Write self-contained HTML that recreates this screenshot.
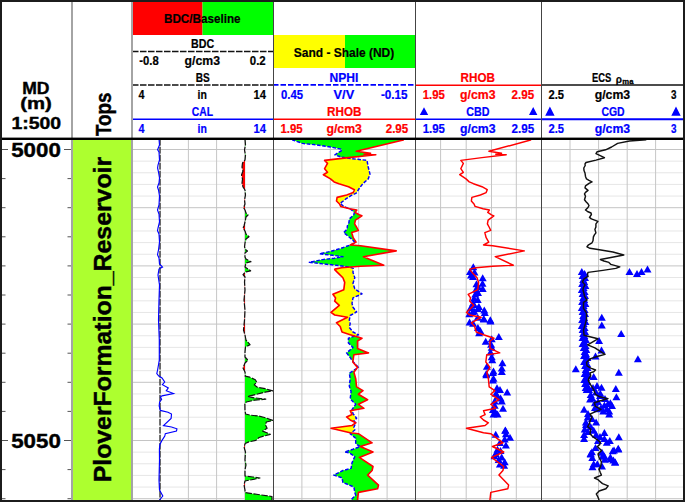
<!DOCTYPE html>
<html><head><meta charset="utf-8"><title>Well log</title>
<style>
html,body{margin:0;padding:0;background:#fff;width:685px;height:502px;overflow:hidden;}
svg{display:block;font-family:"Liberation Sans",sans-serif;}
</style></head><body>
<svg width="685" height="502" viewBox="0 0 685 502">
<defs>
<clipPath id="lb"><polygon points="273,139 292.7,139 292.7,140 302.5,143.4 315.6,144.8 330.5,147 341,149.1 341.9,150.4 334.9,154.8 341,157 350.9,158.6 367,160.4 368.2,167 370,174.1 368.2,178.9 362.8,183.7 359.2,188.5 356.2,193.2 350.9,195.6 345.5,199.2 340.1,203.4 343.7,206.4 350.9,209.4 354.4,212.4 353.8,214.8 349.5,218.8 348.8,223.1 347.3,226.1 347.3,229 343.7,232.6 347.3,235.5 351.7,239.2 355.4,242.8 350.3,245 340,248.7 329.8,251.6 319.6,253.8 332.7,255.3 343,256.7 334.2,258.2 322.5,259.6 309.4,262.3 324,264 338.6,265.5 348.8,266.9 353.2,268.4 353,272.4 354.8,277.8 353,283.3 354.8,288.8 362,293.9 353,297.9 352,303.4 353,307.3 356.6,311.9 350.2,315.5 349.3,320 350.2,323.7 349.3,327.4 353,332 358.4,334.7 348.4,338.3 348.4,342.9 353,347.4 346.6,352.9 350.2,357.5 352,360.5 358.4,367.4 349.3,373.2 350.2,378.7 349.3,386 351.1,391.5 350.2,398.8 355.7,404.3 352,409.7 353,413.6 356.6,418.2 353.9,421 355.7,422.8 353.9,427.3 354.8,430 350.2,433.7 355.7,438.3 355.7,443.8 360.3,446.5 353,449.2 344.7,452 349.3,452.9 354.8,456.5 352,462.9 351.1,468.4 342.9,470.5 333.8,475.1 342,477.8 342.9,482.4 353.9,487 354.8,492.4 355.7,495.2 352,498.8 352,500 273,500"/></clipPath>
<clipPath id="rb"><polygon points="415,139 292.7,139 292.7,140 302.5,143.4 315.6,144.8 330.5,147 341,149.1 341.9,150.4 334.9,154.8 341,157 350.9,158.6 367,160.4 368.2,167 370,174.1 368.2,178.9 362.8,183.7 359.2,188.5 356.2,193.2 350.9,195.6 345.5,199.2 340.1,203.4 343.7,206.4 350.9,209.4 354.4,212.4 353.8,214.8 349.5,218.8 348.8,223.1 347.3,226.1 347.3,229 343.7,232.6 347.3,235.5 351.7,239.2 355.4,242.8 350.3,245 340,248.7 329.8,251.6 319.6,253.8 332.7,255.3 343,256.7 334.2,258.2 322.5,259.6 309.4,262.3 324,264 338.6,265.5 348.8,266.9 353.2,268.4 353,272.4 354.8,277.8 353,283.3 354.8,288.8 362,293.9 353,297.9 352,303.4 353,307.3 356.6,311.9 350.2,315.5 349.3,320 350.2,323.7 349.3,327.4 353,332 358.4,334.7 348.4,338.3 348.4,342.9 353,347.4 346.6,352.9 350.2,357.5 352,360.5 358.4,367.4 349.3,373.2 350.2,378.7 349.3,386 351.1,391.5 350.2,398.8 355.7,404.3 352,409.7 353,413.6 356.6,418.2 353.9,421 355.7,422.8 353.9,427.3 354.8,430 350.2,433.7 355.7,438.3 355.7,443.8 360.3,446.5 353,449.2 344.7,452 349.3,452.9 354.8,456.5 352,462.9 351.1,468.4 342.9,470.5 333.8,475.1 342,477.8 342.9,482.4 353.9,487 354.8,492.4 355.7,495.2 352,498.8 352,500 415,500"/></clipPath>
<clipPath id="t1r"><rect x="245" y="139" width="28" height="361"/></clipPath>
<clipPath id="t1l"><rect x="132" y="139" width="113" height="361"/></clipPath>
<clipPath id="data"><rect x="0" y="139" width="685" height="361"/></clipPath>
</defs>
<rect x="132" y="2" width="70.5" height="33" fill="#ff0000"/>
<rect x="202.5" y="2" width="70.5" height="33" fill="#00ff00"/>
<rect x="274" y="35" width="71" height="33" fill="#ffff00"/>
<rect x="345" y="35" width="70" height="33" fill="#00ff00"/>
<rect x="73" y="139" width="58" height="361" fill="#adff2f"/>
<path d="M132 161.14H683 M132 172.78H683 M132 184.42H683 M132 196.06H683 M132 219.34H683 M132 230.98H683 M132 242.62H683 M132 254.26H683 M132 277.54H683 M132 289.18H683 M132 300.82H683 M132 312.46H683 M132 335.74H683 M132 347.38H683 M132 359.02H683 M132 370.66H683 M132 393.94H683 M132 405.58H683 M132 417.22H683 M132 428.86H683 M132 452.14H683 M132 463.78H683 M132 475.42H683 M132 487.06H683" stroke="#e6e6e6" stroke-width="1" fill="none"/>
<path d="M160.2 139V500 M188.4 139V500 M216.6 139V500 M244.8 139V500 M301.9 139V500 M330.3 139V500 M358.7 139V500 M387.1 139V500 M440.6 139V500 M466.2 139V500 M491.5 139V500 M516.3 139V500 M570 139V500 M598.6 139V500 M627.2 139V500 M655.6 139V500" stroke="#c6c6c6" stroke-width="1" fill="none"/>
<path d="M132 149.5H683 M132 207.7H683 M132 265.9H683 M132 324.1H683 M132 382.3H683 M132 440.5H683 M132 498.7H683" stroke="#c4c4c4" stroke-width="1" fill="none"/>
<path d="M2 149.5H8M64 149.5H71 M2 178.6H5.5M67.5 178.6H71 M2 207.7H5.5M67.5 207.7H71 M2 236.8H5.5M67.5 236.8H71 M2 265.9H5.5M67.5 265.9H71 M2 295H5.5M67.5 295H71 M2 324.1H5.5M67.5 324.1H71 M2 353.2H5.5M67.5 353.2H71 M2 382.3H5.5M67.5 382.3H71 M2 411.4H5.5M67.5 411.4H71 M2 440.5H8M64 440.5H71 M2 469.6H5.5M67.5 469.6H71 M2 498.7H5.5M67.5 498.7H71" stroke="#555" stroke-width="1" fill="none"/>
<polygon points="245,139 245.5,145 244.5,150 245.5,155 245,160 242.5,163 242,167 243,171 241.5,175 242.5,179 242,183 243,187 245,190 245.5,195 244.5,200 245,204 243.5,207.7 245,210 246,213 248,215 246,217 245,222 244,226 243,228 245,231 246,234 249,236.7 246,239 245,243 244.5,247 246,250 247.5,251 245,253 245,257 246,259 251,261.7 246,263 245,267 250.6,270.8 245.5,272 243,274.6 245,277 244.5,282 245,290 244,300 245,310 244.5,320 243.5,330 245,335 246,340 250,344.7 245.5,347 245,352 245,357 248,360.3 245,363 243,368 245,372 245.5,375 245.2,376.2 249.8,377.2 255.3,379.7 256.7,382.1 254.3,384.9 257.4,387.3 265.1,388.7 272.8,390.8 265.1,392.2 247.7,396.4 254,397.8 265.8,399.2 254.6,400.2 246.3,402 244.9,404.1 245,410 245.6,414 250.4,415.2 258.3,416 266.3,418 272.7,420.4 266.3,422 265.5,425.1 267.1,428.3 262.7,431.1 270.3,434.3 259.1,437.5 255.9,440.3 248.8,441.9 245.2,443.5 244,447 245.5,452 245,460 246,465 245,470 245,476 253,477 260,478 250,480 245,481 244,485 245,490 245,492.5 258,494.5 272,496.5 272,500 245,500 245,500 245,139" fill="#00ff00" clip-path="url(#t1r)"/>
<polygon points="245,139 245.5,145 244.5,150 245.5,155 245,160 242.5,163 242,167 243,171 241.5,175 242.5,179 242,183 243,187 245,190 245.5,195 244.5,200 245,204 243.5,207.7 245,210 246,213 248,215 246,217 245,222 244,226 243,228 245,231 246,234 249,236.7 246,239 245,243 244.5,247 246,250 247.5,251 245,253 245,257 246,259 251,261.7 246,263 245,267 250.6,270.8 245.5,272 243,274.6 245,277 244.5,282 245,290 244,300 245,310 244.5,320 243.5,330 245,335 246,340 250,344.7 245.5,347 245,352 245,357 248,360.3 245,363 243,368 245,372 245.5,375 245.2,376.2 249.8,377.2 255.3,379.7 256.7,382.1 254.3,384.9 257.4,387.3 265.1,388.7 272.8,390.8 265.1,392.2 247.7,396.4 254,397.8 265.8,399.2 254.6,400.2 246.3,402 244.9,404.1 245,410 245.6,414 250.4,415.2 258.3,416 266.3,418 272.7,420.4 266.3,422 265.5,425.1 267.1,428.3 262.7,431.1 270.3,434.3 259.1,437.5 255.9,440.3 248.8,441.9 245.2,443.5 244,447 245.5,452 245,460 246,465 245,470 245,476 253,477 260,478 250,480 245,481 244,485 245,490 245,492.5 258,494.5 272,496.5 272,500 245,500 245,500 245,139" fill="#ff0000" clip-path="url(#t1l)"/>
<g clip-path="url(#data)">
<polygon points="415,139 403.3,139 403.3,140 356.3,151.3 370.6,153.2 364,154.2 375.8,154.8 348.4,157.6 324.6,160.4 327.5,163.4 324.6,168.7 327.5,172.3 323.4,174.7 330.5,178.9 334.1,181.9 338.9,183.7 348.5,186.7 354.4,189.7 353.2,192.6 346.7,195 337.1,197.4 336.5,201 339.5,204 340.7,206.4 349.7,208.8 356.8,210 355,212.4 359.2,214.8 361.9,215.8 355.4,220.2 354.6,223.9 356.8,227.5 358.3,230.4 351.7,232.6 353.2,237.7 356.1,242.1 350.3,245 360.5,245.8 396.2,250.9 363.4,256.7 383.8,265.2 360.5,266.2 341.5,267.7 334.9,269.1 334.7,269.6 337.4,272.4 342.9,277.8 344.7,282.4 343.8,289.7 332.9,294.3 335.6,297.9 334.7,301.2 339.3,305.3 331,312.4 334.7,315 347.5,317.3 336.5,322.8 340.2,326.5 342,332 350.2,334.7 362,338.3 357.5,341 357.5,348.4 368.5,352.9 353.9,354.7 352.8,362 357.5,367.4 353.9,372.3 355.7,378.7 356.6,386.9 363,390.6 358.4,394.2 367.6,399.7 358.4,404.3 363.9,408.3 350.2,410.7 352,414.6 346.6,416.9 350.2,420 355.7,422.8 352,425.5 331,428.2 338.4,430 350.2,432.8 358.4,433.7 372.1,442.8 360.3,446.5 373,452 359.3,457.4 373,466.5 372.1,470.5 367.6,475.1 378.5,485.1 377.6,488.8 358.4,492.4 357.5,499.7 357.5,500 415,500" fill="#ffff00" clip-path="url(#lb)"/>
<polygon points="273,139 403.3,139 403.3,140 356.3,151.3 370.6,153.2 364,154.2 375.8,154.8 348.4,157.6 324.6,160.4 327.5,163.4 324.6,168.7 327.5,172.3 323.4,174.7 330.5,178.9 334.1,181.9 338.9,183.7 348.5,186.7 354.4,189.7 353.2,192.6 346.7,195 337.1,197.4 336.5,201 339.5,204 340.7,206.4 349.7,208.8 356.8,210 355,212.4 359.2,214.8 361.9,215.8 355.4,220.2 354.6,223.9 356.8,227.5 358.3,230.4 351.7,232.6 353.2,237.7 356.1,242.1 350.3,245 360.5,245.8 396.2,250.9 363.4,256.7 383.8,265.2 360.5,266.2 341.5,267.7 334.9,269.1 334.7,269.6 337.4,272.4 342.9,277.8 344.7,282.4 343.8,289.7 332.9,294.3 335.6,297.9 334.7,301.2 339.3,305.3 331,312.4 334.7,315 347.5,317.3 336.5,322.8 340.2,326.5 342,332 350.2,334.7 362,338.3 357.5,341 357.5,348.4 368.5,352.9 353.9,354.7 352.8,362 357.5,367.4 353.9,372.3 355.7,378.7 356.6,386.9 363,390.6 358.4,394.2 367.6,399.7 358.4,404.3 363.9,408.3 350.2,410.7 352,414.6 346.6,416.9 350.2,420 355.7,422.8 352,425.5 331,428.2 338.4,430 350.2,432.8 358.4,433.7 372.1,442.8 360.3,446.5 373,452 359.3,457.4 373,466.5 372.1,470.5 367.6,475.1 378.5,485.1 377.6,488.8 358.4,492.4 357.5,499.7 357.5,500 273,500" fill="#00ff00" clip-path="url(#rb)"/>
</g>
<g clip-path="url(#data)" fill="none" stroke-linejoin="round">
<line x1="160" y1="139" x2="160" y2="500" stroke="#222" stroke-width="1.2" stroke-dasharray="6.5,1.5"/>
<polyline points="159,139 159.5,145 157.6,149.8 159,152 159.5,160 158,165 157.6,168 158.5,172 159.5,178 159,183 157.5,187 158.5,190 159.5,196 159,205 157.5,210 159,214 159.5,222 158,228 157.5,230.6 159,234 159.5,242 158.5,250 157.5,254.7 159,258 159.5,264 162.5,267 159,269 158,275 159.5,285 159,300 158.5,320 159.3,340 159.3,360 157.6,370 156.8,373.6 158.8,376 162,378 164.7,382 162.4,384.7 168.3,387.9 166.3,390.7 173.5,393.5 162,395.9 160.4,397.1 161.6,399.5 159.6,401.9 159.2,405.9 160.3,410.4 168,412.2 171.5,414 171.1,418.5 163.5,425.6 171.5,427 176.9,428.8 176.5,431 165.3,433.7 164.8,436 161.7,440.9 159.9,444.5 159.4,449 159.5,460 159,480 159.5,490 162.8,496 159.5,500" stroke="#0000ff" stroke-width="1.15" stroke-linejoin="miter"/>
<polyline points="245,139 245.5,145 244.5,150 245.5,155 245,160 242.5,163 242,167 243,171 241.5,175 242.5,179 242,183 243,187 245,190 245.5,195 244.5,200 245,204 243.5,207.7 245,210 246,213 248,215 246,217 245,222 244,226 243,228 245,231 246,234 249,236.7 246,239 245,243 244.5,247 246,250 247.5,251 245,253 245,257 246,259 251,261.7 246,263 245,267 250.6,270.8 245.5,272 243,274.6 245,277 244.5,282 245,290 244,300 245,310 244.5,320 243.5,330 245,335 246,340 250,344.7 245.5,347 245,352 245,357 248,360.3 245,363 243,368 245,372 245.5,375 245.2,376.2 249.8,377.2 255.3,379.7 256.7,382.1 254.3,384.9 257.4,387.3 265.1,388.7 272.8,390.8 265.1,392.2 247.7,396.4 254,397.8 265.8,399.2 254.6,400.2 246.3,402 244.9,404.1 245,410 245.6,414 250.4,415.2 258.3,416 266.3,418 272.7,420.4 266.3,422 265.5,425.1 267.1,428.3 262.7,431.1 270.3,434.3 259.1,437.5 255.9,440.3 248.8,441.9 245.2,443.5 244,447 245.5,452 245,460 246,465 245,470 245,476 253,477 260,478 250,480 245,481 244,485 245,490 245,492.5 258,494.5 272,496.5 272,500" stroke="#111" stroke-width="1.2" stroke-dasharray="6.5,1.5"/>
<polyline points="292.7,139 292.7,140 302.5,143.4 315.6,144.8 330.5,147 341,149.1 341.9,150.4 334.9,154.8 341,157 350.9,158.6 367,160.4 368.2,167 370,174.1 368.2,178.9 362.8,183.7 359.2,188.5 356.2,193.2 350.9,195.6 345.5,199.2 340.1,203.4 343.7,206.4 350.9,209.4 354.4,212.4 353.8,214.8 349.5,218.8 348.8,223.1 347.3,226.1 347.3,229 343.7,232.6 347.3,235.5 351.7,239.2 355.4,242.8 350.3,245 340,248.7 329.8,251.6 319.6,253.8 332.7,255.3 343,256.7 334.2,258.2 322.5,259.6 309.4,262.3 324,264 338.6,265.5 348.8,266.9 353.2,268.4 353,272.4 354.8,277.8 353,283.3 354.8,288.8 362,293.9 353,297.9 352,303.4 353,307.3 356.6,311.9 350.2,315.5 349.3,320 350.2,323.7 349.3,327.4 353,332 358.4,334.7 348.4,338.3 348.4,342.9 353,347.4 346.6,352.9 350.2,357.5 352,360.5 358.4,367.4 349.3,373.2 350.2,378.7 349.3,386 351.1,391.5 350.2,398.8 355.7,404.3 352,409.7 353,413.6 356.6,418.2 353.9,421 355.7,422.8 353.9,427.3 354.8,430 350.2,433.7 355.7,438.3 355.7,443.8 360.3,446.5 353,449.2 344.7,452 349.3,452.9 354.8,456.5 352,462.9 351.1,468.4 342.9,470.5 333.8,475.1 342,477.8 342.9,482.4 353.9,487 354.8,492.4 355.7,495.2 352,498.8 352,500" stroke="#0000ff" stroke-width="1.45" stroke-dasharray="3.6,1.6"/>
<polyline points="403.3,139 403.3,140 356.3,151.3 370.6,153.2 364,154.2 375.8,154.8 348.4,157.6 324.6,160.4 327.5,163.4 324.6,168.7 327.5,172.3 323.4,174.7 330.5,178.9 334.1,181.9 338.9,183.7 348.5,186.7 354.4,189.7 353.2,192.6 346.7,195 337.1,197.4 336.5,201 339.5,204 340.7,206.4 349.7,208.8 356.8,210 355,212.4 359.2,214.8 361.9,215.8 355.4,220.2 354.6,223.9 356.8,227.5 358.3,230.4 351.7,232.6 353.2,237.7 356.1,242.1 350.3,245 360.5,245.8 396.2,250.9 363.4,256.7 383.8,265.2 360.5,266.2 341.5,267.7 334.9,269.1 334.7,269.6 337.4,272.4 342.9,277.8 344.7,282.4 343.8,289.7 332.9,294.3 335.6,297.9 334.7,301.2 339.3,305.3 331,312.4 334.7,315 347.5,317.3 336.5,322.8 340.2,326.5 342,332 350.2,334.7 362,338.3 357.5,341 357.5,348.4 368.5,352.9 353.9,354.7 352.8,362 357.5,367.4 353.9,372.3 355.7,378.7 356.6,386.9 363,390.6 358.4,394.2 367.6,399.7 358.4,404.3 363.9,408.3 350.2,410.7 352,414.6 346.6,416.9 350.2,420 355.7,422.8 352,425.5 331,428.2 338.4,430 350.2,432.8 358.4,433.7 372.1,442.8 360.3,446.5 373,452 359.3,457.4 373,466.5 372.1,470.5 367.6,475.1 378.5,485.1 377.6,488.8 358.4,492.4 357.5,499.7 357.5,500" stroke="#ff0000" stroke-width="1.6"/>
</g>
<g fill="#0000ff" clip-path="url(#data)">
<polygon points="473.3,263.3 477.3,270.3 469.3,270.3"/>
<polygon points="470,268 474,275 466,275"/>
<polygon points="474.5,268.5 478.5,275.5 470.5,275.5"/>
<polygon points="471,271.5 475,278.5 467,278.5"/>
<polygon points="473,273 477,280 469,280"/>
<polygon points="482.7,274.3 486.7,281.3 478.7,281.3"/>
<polygon points="482.5,279.7 486.5,286.7 478.5,286.7"/>
<polygon points="476.5,280.3 480.5,287.3 472.5,287.3"/>
<polygon points="478,283 482,290 474,290"/>
<polygon points="476,285.7 480,292.7 472,292.7"/>
<polygon points="482.7,285 486.7,292 478.7,292"/>
<polygon points="475.3,290.5 479.3,297.5 471.3,297.5"/>
<polygon points="478,289 482,296 474,296"/>
<polygon points="474,294.7 478,301.7 470,301.7"/>
<polygon points="477.7,295.9 481.7,302.9 473.7,302.9"/>
<polygon points="473,299.4 477,306.4 469,306.4"/>
<polygon points="478.9,303 482.9,310 474.9,310"/>
<polygon points="484.3,306.6 488.3,313.6 480.3,313.6"/>
<polygon points="470.5,304.2 474.5,311.2 466.5,311.2"/>
<polygon points="474,307.2 478,314.2 470,314.2"/>
<polygon points="469.3,310.2 473.3,317.2 465.3,317.2"/>
<polygon points="477.7,313.8 481.7,320.8 473.7,320.8"/>
<polygon points="483.7,315 487.7,322 479.7,322"/>
<polygon points="490.3,316.2 494.3,323.2 486.3,323.2"/>
<polygon points="473.9,301 477.9,308 469.9,308"/>
<polygon points="477.9,305 481.9,312 473.9,312"/>
<polygon points="484.8,309 488.8,316 480.8,316"/>
<polygon points="472.9,308 476.9,315 468.9,315"/>
<polygon points="483.9,315.6 487.9,322.6 479.9,322.6"/>
<polygon points="490.5,317.4 494.5,324.4 486.5,324.4"/>
<polygon points="469.6,318.6 473.6,325.6 465.6,325.6"/>
<polygon points="473.1,319.8 477.1,326.8 469.1,326.8"/>
<polygon points="477.9,324 481.9,331 473.9,331"/>
<polygon points="480.3,327 484.3,334 476.3,334"/>
<polygon points="479.1,329.3 483.1,336.3 475.1,336.3"/>
<polygon points="498.8,332.9 502.8,339.9 494.8,339.9"/>
<polygon points="491.7,335.3 495.7,342.3 487.7,342.3"/>
<polygon points="485.7,337.7 489.7,344.7 481.7,344.7"/>
<polygon points="491.1,340.7 495.1,347.7 487.1,347.7"/>
<polygon points="491.7,343.7 495.7,350.7 487.7,350.7"/>
<polygon points="490.5,348.5 494.5,355.5 486.5,355.5"/>
<polygon points="491.7,353.2 495.7,360.2 487.7,360.2"/>
<polygon points="492.3,356.2 496.3,363.2 488.3,363.2"/>
<polygon points="502.4,359.2 506.4,366.2 498.4,366.2"/>
<polygon points="501.8,364.6 505.8,371.6 497.8,371.6"/>
<polygon points="486.9,362.8 490.9,369.8 482.9,369.8"/>
<polygon points="493.5,367.6 497.5,374.6 489.5,374.6"/>
<polygon points="486.3,370 490.3,377 482.3,377"/>
<polygon points="486.3,371.2 490.3,378.2 482.3,378.2"/>
<polygon points="492.9,369 496.9,376 488.9,376"/>
<polygon points="501.8,368 505.8,375 497.8,375"/>
<polygon points="493.5,374.8 497.5,381.8 489.5,381.8"/>
<polygon points="492.9,376.6 496.9,383.6 488.9,383.6"/>
<polygon points="497,384.3 501,391.3 493,391.3"/>
<polygon points="500,386.1 504,393.1 496,393.1"/>
<polygon points="507.2,388.5 511.2,395.5 503.2,395.5"/>
<polygon points="495.9,389.7 499.9,396.7 491.9,396.7"/>
<polygon points="497.6,392.7 501.6,399.7 493.6,399.7"/>
<polygon points="500.6,394.5 504.6,401.5 496.6,401.5"/>
<polygon points="494.7,397.5 498.7,404.5 490.7,404.5"/>
<polygon points="501.8,397.5 505.8,404.5 497.8,404.5"/>
<polygon points="494.7,401.7 498.7,408.7 490.7,408.7"/>
<polygon points="503,404.7 507,411.7 499,411.7"/>
<polygon points="492.9,405.9 496.9,412.9 488.9,412.9"/>
<polygon points="495.3,408.2 499.3,415.2 491.3,415.2"/>
<polygon points="493.5,410.6 497.5,417.6 489.5,417.6"/>
<polygon points="497.6,410.6 501.6,417.6 493.6,417.6"/>
<polygon points="505.4,426.8 509.4,433.8 501.4,433.8"/>
<polygon points="495.7,430.8 499.7,437.8 491.7,437.8"/>
<polygon points="505.3,426.6 509.3,433.6 501.3,433.6"/>
<polygon points="505.9,430.2 509.9,437.2 501.9,437.2"/>
<polygon points="510,433.7 514,440.7 506,440.7"/>
<polygon points="504.7,435.5 508.7,442.5 500.7,442.5"/>
<polygon points="499.9,439.1 503.9,446.1 495.9,446.1"/>
<polygon points="505.9,441.5 509.9,448.5 501.9,448.5"/>
<polygon points="497.5,445.7 501.5,452.7 493.5,452.7"/>
<polygon points="500.5,446.9 504.5,453.9 496.5,453.9"/>
<polygon points="495.7,449.9 499.7,456.9 491.7,456.9"/>
<polygon points="494.5,452.3 498.5,459.3 490.5,459.3"/>
<polygon points="501.7,453.5 505.7,460.5 497.7,460.5"/>
<polygon points="498.7,455.9 502.7,462.9 494.7,462.9"/>
<polygon points="504.7,458.2 508.7,465.2 500.7,465.2"/>
<polygon points="499.9,460.6 503.9,467.6 495.9,467.6"/>
<polygon points="504.1,461.8 508.1,468.8 500.1,468.8"/>
<polygon points="629.5,268 633.5,275 625.5,275"/>
<polygon points="641.5,268 645.5,275 637.5,275"/>
<polygon points="647.5,265.5 651.5,272.5 643.5,272.5"/>
<polygon points="637,270 641,277 633,277"/>
<polygon points="601.8,313.7 605.8,320.7 597.8,320.7"/>
<polygon points="601.8,321.5 605.8,328.5 597.8,328.5"/>
<polygon points="621.2,329.9 625.2,336.9 617.2,336.9"/>
<polygon points="599.1,337 603.1,344 595.1,344"/>
<polygon points="601.5,346.6 605.5,353.6 597.5,353.6"/>
<polygon points="595.5,352.6 599.5,359.6 591.5,359.6"/>
<polygon points="637.9,355.3 641.9,362.3 633.9,362.3"/>
<polygon points="575.8,365.2 579.8,372.2 571.8,372.2"/>
<polygon points="618.8,368.7 622.8,375.7 614.8,375.7"/>
<polygon points="593.7,372.9 597.7,379.9 589.7,379.9"/>
<polygon points="601.5,383.7 605.5,390.7 597.5,390.7"/>
<polygon points="615.8,384.9 619.8,391.9 611.8,391.9"/>
<polygon points="616.4,393.2 620.4,400.2 612.4,400.2"/>
<polygon points="590.7,390.9 594.7,397.9 586.7,397.9"/>
<polygon points="596,388.5 600,395.5 592,395.5"/>
<polygon points="600.3,389.7 604.3,396.7 596.3,396.7"/>
<polygon points="590.1,395.6 594.1,402.6 586.1,402.6"/>
<polygon points="594.9,399.2 598.9,406.2 590.9,406.2"/>
<polygon points="610.4,399.2 614.4,406.2 606.4,406.2"/>
<polygon points="604.4,401.6 608.4,408.6 600.4,408.6"/>
<polygon points="584.1,405.8 588.1,412.8 580.1,412.8"/>
<polygon points="597.3,405.2 601.3,412.2 593.3,412.2"/>
<polygon points="606.8,405.2 610.8,412.2 602.8,412.2"/>
<polygon points="603.2,407.6 607.2,414.6 599.2,414.6"/>
<polygon points="609.2,407.6 613.2,414.6 605.2,414.6"/>
<polygon points="609.2,410.6 613.2,417.6 605.2,417.6"/>
<polygon points="587.7,413.6 591.7,420.6 583.7,420.6"/>
<polygon points="596.1,418.4 600.1,425.4 592.1,425.4"/>
<polygon points="585.9,418.4 589.9,425.4 581.9,425.4"/>
<polygon points="590.7,423.1 594.7,430.1 586.7,430.1"/>
<polygon points="584.7,425.5 588.7,432.5 580.7,432.5"/>
<polygon points="593.7,426.7 597.7,433.7 589.7,433.7"/>
<polygon points="584.1,430.9 588.1,437.9 580.1,437.9"/>
<polygon points="604.4,429.1 608.4,436.1 600.4,436.1"/>
<polygon points="596.1,430.9 600.1,437.9 592.1,437.9"/>
<polygon points="618.8,433.3 622.8,440.3 614.8,440.3"/>
<polygon points="584.1,435.1 588.1,442.1 580.1,442.1"/>
<polygon points="604.4,435.1 608.4,442.1 600.4,442.1"/>
<polygon points="609.8,436.9 613.8,443.9 605.8,443.9"/>
<polygon points="606.8,438.7 610.8,445.7 602.8,445.7"/>
<polygon points="618.2,444.7 622.2,451.7 614.2,451.7"/>
<polygon points="614,446.5 618,453.5 610,453.5"/>
<polygon points="595.5,444.1 599.5,451.1 591.5,451.1"/>
<polygon points="591.9,448.2 595.9,455.2 587.9,455.2"/>
<polygon points="590.7,450.6 594.7,457.6 586.7,457.6"/>
<polygon points="602,448.8 606,455.8 598,455.8"/>
<polygon points="604.4,452.4 608.4,459.4 600.4,459.4"/>
<polygon points="610.4,453.6 614.4,460.6 606.4,460.6"/>
<polygon points="613.4,456.6 617.4,463.6 609.4,463.6"/>
<polygon points="615.2,458.4 619.2,465.4 611.2,465.4"/>
<polygon points="593.7,460.2 597.7,467.2 589.7,467.2"/>
<polygon points="597.3,460.2 601.3,467.2 593.3,467.2"/>
<polygon points="592.5,463.2 596.5,470.2 588.5,470.2"/>
<polygon points="602,462.6 606,469.6 598,469.6"/>
<polygon points="618.4,445.6 622.4,452.6 614.4,452.6"/>
<polygon points="612.7,447.3 616.7,454.3 608.7,454.3"/>
<polygon points="610.5,455.2 614.5,462.2 606.5,462.2"/>
<polygon points="615,458.6 619,465.6 611,465.6"/>
<polygon points="602.5,452.4 606.5,459.4 598.5,459.4"/>
<polygon points="604.8,455.8 608.8,462.8 600.8,462.8"/>
<polygon points="590.6,450.1 594.6,457.1 586.6,457.1"/>
<polygon points="592.3,454.1 596.3,461.1 588.3,461.1"/>
<polygon points="588,410 592,417 584,417"/>
<polygon points="592,415 596,422 588,422"/>
<polygon points="586,421 590,428 582,428"/>
<polygon points="588,428 592,435 584,435"/>
<polygon points="600,433 604,440 596,440"/>
<polygon points="598,437 602,444 594,444"/>
<polygon points="593,384 597,391 589,391"/>
<polygon points="597,382 601,389 593,389"/>
<polygon points="600,392 604,399 596,399"/>
<polygon points="605,395 609,402 601,402"/>
<polygon points="608,400 612,407 604,407"/>
<polygon points="598,398 602,405 594,405"/>
<polygon points="612,402 616,409 608,409"/>
<polygon points="595,404 599,411 591,411"/>
<polygon points="601,404 605,411 597,411"/>
<polygon points="589,386 593,393 585,393"/>
<polygon points="592,394 596,401 588,401"/>
<polygon points="581.8,268 585.8,275 577.8,275"/>
<polygon points="584.6,270 588.6,277 580.6,277"/>
<polygon points="582.6,272 586.6,279 578.6,279"/>
<polygon points="585,274 589,281 581,281"/>
<polygon points="583.2,276 587.2,283 579.2,283"/>
<polygon points="584.2,278 588.2,285 580.2,285"/>
<polygon points="582.2,280 586.2,287 578.2,287"/>
<polygon points="585.4,282 589.4,289 581.4,289"/>
<polygon points="583.6,284 587.6,291 579.6,291"/>
<polygon points="581.8,286 585.8,293 577.8,293"/>
<polygon points="584.6,288 588.6,295 580.6,295"/>
<polygon points="582.6,290 586.6,297 578.6,297"/>
<polygon points="585,292 589,299 581,299"/>
<polygon points="583.2,294 587.2,301 579.2,301"/>
<polygon points="584.2,296 588.2,303 580.2,303"/>
<polygon points="582.2,298 586.2,305 578.2,305"/>
<polygon points="585.4,300 589.4,307 581.4,307"/>
<polygon points="583.6,302 587.6,309 579.6,309"/>
<polygon points="581.8,304 585.8,311 577.8,311"/>
<polygon points="584.6,306 588.6,313 580.6,313"/>
<polygon points="582.6,308 586.6,315 578.6,315"/>
<polygon points="585,310 589,317 581,317"/>
<polygon points="583.2,312 587.2,319 579.2,319"/>
<polygon points="584.2,314 588.2,321 580.2,321"/>
<polygon points="582.2,316 586.2,323 578.2,323"/>
<polygon points="585.4,318 589.4,325 581.4,325"/>
<polygon points="583.6,320 587.6,327 579.6,327"/>
<polygon points="581.8,322 585.8,329 577.8,329"/>
<polygon points="584.6,324 588.6,331 580.6,331"/>
<polygon points="582.6,326 586.6,333 578.6,333"/>
<polygon points="585,328 589,335 581,335"/>
<polygon points="583.2,330 587.2,337 579.2,337"/>
<polygon points="584.37,332 588.37,339 580.37,339"/>
<polygon points="582.53,334 586.53,341 578.53,341"/>
<polygon points="585.9,336 589.9,343 581.9,343"/>
<polygon points="584.27,338 588.27,345 580.27,345"/>
<polygon points="582.63,340 586.63,347 578.63,347"/>
<polygon points="585.6,342 589.6,349 581.6,349"/>
<polygon points="583.77,344 587.77,351 579.77,351"/>
<polygon points="586.33,346 590.33,353 582.33,353"/>
<polygon points="584.7,348 588.7,355 580.7,355"/>
<polygon points="585.87,350 589.87,357 581.87,357"/>
<polygon points="584.03,352 588.03,359 580.03,359"/>
<polygon points="587.4,354 591.4,361 583.4,361"/>
<polygon points="585.77,356 589.77,363 581.77,363"/>
<polygon points="584.13,358 588.13,365 580.13,365"/>
<polygon points="587.1,360 591.1,367 583.1,367"/>
<polygon points="585.1,362 589.1,369 581.1,369"/>
<polygon points="587.5,364 591.5,371 583.5,371"/>
<polygon points="585.7,366 589.7,373 581.7,373"/>
<polygon points="586.7,368 590.7,375 582.7,375"/>
<polygon points="584.7,370 588.7,377 580.7,377"/>
<polygon points="587.9,372 591.9,379 583.9,379"/>
<polygon points="586.1,374 590.1,381 582.1,381"/>
<polygon points="584.3,376 588.3,383 580.3,383"/>
<polygon points="587.1,378 591.1,385 583.1,385"/>
<polygon points="585.1,380 589.1,387 581.1,387"/>
<polygon points="587.5,382 591.5,389 583.5,389"/>
<polygon points="585.7,384 589.7,391 581.7,391"/>
<polygon points="586.7,386 590.7,393 582.7,393"/>
</g>
<polyline points="530.62,139 530.62,140 488.91,151.3 501.6,153.2 495.75,154.2 506.22,154.8 481.9,157.6 460.79,160.4 463.36,163.4 460.79,168.7 463.36,172.3 459.72,174.7 466.02,178.9 469.22,181.9 473.47,183.7 481.99,186.7 487.23,189.7 486.16,192.6 480.4,195 471.88,197.4 471.35,201 474.01,204 475.07,206.4 483.06,208.8 489.36,210 487.76,212.4 491.49,214.8 493.88,215.8 488.12,220.2 487.41,223.9 489.36,227.5 490.69,230.4 484.83,232.6 486.16,237.7 488.74,242.1 483.59,245 492.64,245.8 524.32,250.9 495.21,256.7 513.32,265.2 492.64,266.2 475.78,267.7 469.93,269.1 469.75,269.6 472.14,272.4 477.02,277.8 478.62,282.4 477.82,289.7 468.15,294.3 470.55,297.9 469.75,301.2 473.83,305.3 466.46,312.4 469.75,315 481.11,317.3 471.35,322.8 474.63,326.5 476.23,332 483.5,334.7 493.97,338.3 489.98,341 489.98,348.4 499.74,352.9 486.78,354.7 485.81,362 489.98,367.4 486.78,372.3 488.38,378.7 489.18,386.9 494.86,390.6 490.78,394.2 498.94,399.7 490.78,404.3 495.66,408.3 483.5,410.7 485.1,414.6 480.31,416.9 483.5,420 488.38,422.8 485.1,425.5 466.46,428.2 473.03,430 483.5,432.8 490.78,433.7 502.93,442.8 492.46,446.5 503.73,452 491.58,457.4 503.73,466.5 502.93,470.5 498.94,475.1 508.61,485.1 507.81,488.8 490.78,492.4 489.98,499.7 489.98,500" fill="none" stroke="#ff0000" stroke-width="1.45" stroke-linejoin="round" clip-path="url(#data)"/>
<polyline points="646.3,139.8 629.5,141 617.6,143.4 611.6,147 605.6,149.8 597.2,151.7 596,153.7 604.4,157.7 596,160.1 586,162.5 585,164 585.2,165.5 583.8,168 584,170.5 585,173 585.5,176.4 586.5,178.9 589,180.4 592,181.9 589,183.4 585.5,185.9 585,187.9 588,190.4 585.5,192.4 584.5,193.9 585.5,196.3 584.5,199.8 586,201.8 588,203.8 589,205.5 588,207.5 585.5,210 587.5,211.5 591,213 591.4,214.5 589.5,217.4 591.4,218.9 597.9,221.4 595.9,223.9 595.9,226.9 594.9,229.4 595.9,232.9 594.4,234.9 593.4,236.9 593,240.8 592,242.8 588.5,244.8 587,246.8 590,248.3 597.9,249.5 612.9,252 623.8,255 610.9,257.5 600.4,259.5 603.9,261 608.9,262.4 610.9,264.4 619.8,266.9 615.8,268.4 602.9,270.4 588,272.4 587.5,274.4 588,276.4 584,278.9 582.5,281.9 585,284.9 583.5,287.3 583,289.8 584,293.8 584.5,296 585.3,297.8 587.1,300 583.5,302.4 583.5,308.4 586.5,313.1 586.5,319.1 585.3,323.9 583.5,329.9 584.1,335.3 588.9,336.5 597.9,338.8 587.7,344.8 594.9,347.8 605,354.4 597,356.5 590.7,358.6 586.5,362.2 587.1,365.8 590.7,368.1 595.5,370 593.7,371.7 590.1,372.9 590.7,375.9 588.9,378.3 588.3,380.7 590.7,384.9 593.7,389.7 595.5,394.4 599.7,396.8 608,398.6 599.7,401 594.3,402.8 595.5,406.4 600.9,409.4 594.9,411.8 590.1,414.2 591.9,417.2 590.1,420.8 589.5,423.7 587.7,426.7 590.7,429.1 590.1,433.9 593.1,436.9 596.7,439.3 600.3,442.3 599.7,444.7 597.3,446.5 601.5,450.5 598,454.1 599.1,457.5 601.4,462 600.8,466 599.1,469.4 600.2,472.3 601.4,475.1 594.5,478 598,479.7 602.5,483.6 608.2,485.9 605.9,488.8 599.1,491 596.3,493.9 598,497.3 599.1,500" fill="none" stroke="#111" stroke-width="1.45" stroke-linejoin="round" clip-path="url(#data)"/>
<path d="M132 51.5H273M132 85H273" stroke="#111" stroke-width="1.6" stroke-dasharray="6.5,1.5" fill="none"/>
<path d="M132 119.3H273M415 119.3H541" stroke="#0000ff" stroke-width="1.5" fill="none"/>
<path d="M541 119.2H683" stroke="#0000ff" stroke-width="2" fill="none"/>
<path d="M273 84.9H415" stroke="#0000ff" stroke-width="1.6" stroke-dasharray="5.5,2" fill="none"/>
<path d="M273 119.3H415M415 85.2H541" stroke="#ff0000" stroke-width="1.5" fill="none"/>
<path d="M541 85H683" stroke="#111" stroke-width="1.4" fill="none"/>
<path d="M419.8 115L424 107.2L428.2 115ZM529 115L533.2 107L537.4 115ZM545.2 115.8L549.9 106.5L554.6 115.8ZM671.3 115.8L676 106.5L680.7 115.8Z" fill="#0000ff"/>
<path d="M72 0V502M132 0V502" stroke="#a4a4a4" stroke-width="2" fill="none"/>
<path d="M273.5 0V500M415.5 0V500M541.5 0V500" stroke="#444" stroke-width="1" fill="none"/>
<rect x="0" y="137.6" width="685" height="2.4" fill="#000"/>
<rect x="1" y="1" width="683" height="500" fill="none" stroke="#1c1c1c" stroke-width="2"/>
<text x="164" y="23" font-size="12" fill="#000" stroke="#000" stroke-width="0.2" textLength="76.5" lengthAdjust="spacingAndGlyphs" font-family="Liberation Sans, sans-serif" font-weight="bold" >BDC/Baseline</text>
<text x="191.1" y="48.4" font-size="12" fill="#000" stroke="#000" stroke-width="0.2" textLength="23.1" lengthAdjust="spacingAndGlyphs" font-family="Liberation Sans, sans-serif" font-weight="bold" >BDC</text>
<text x="139.3" y="64.9" font-size="12" fill="#000" stroke="#000" stroke-width="0.2" textLength="19.4" lengthAdjust="spacingAndGlyphs" font-family="Liberation Sans, sans-serif" font-weight="bold" >-0.8</text>
<text x="184.6" y="64.9" font-size="12" fill="#000" stroke="#000" stroke-width="0.2" textLength="35.4" lengthAdjust="spacingAndGlyphs" font-family="Liberation Sans, sans-serif" font-weight="bold" >g/cm3</text>
<text x="249.8" y="64.9" font-size="12" fill="#000" stroke="#000" stroke-width="0.2" textLength="15.9" lengthAdjust="spacingAndGlyphs" font-family="Liberation Sans, sans-serif" font-weight="bold" >0.2</text>
<text x="195.8" y="82.4" font-size="12" fill="#000" stroke="#000" stroke-width="0.2" textLength="14" lengthAdjust="spacingAndGlyphs" font-family="Liberation Sans, sans-serif" font-weight="bold" >BS</text>
<text x="138.4" y="98.9" font-size="12" fill="#000" stroke="#000" stroke-width="0.2" textLength="6" lengthAdjust="spacingAndGlyphs" font-family="Liberation Sans, sans-serif" font-weight="bold" >4</text>
<text x="197.6" y="98.9" font-size="12" fill="#000" stroke="#000" stroke-width="0.2" textLength="9.3" lengthAdjust="spacingAndGlyphs" font-family="Liberation Sans, sans-serif" font-weight="bold" >in</text>
<text x="253.6" y="98.9" font-size="12" fill="#000" stroke="#000" stroke-width="0.2" textLength="12.5" lengthAdjust="spacingAndGlyphs" font-family="Liberation Sans, sans-serif" font-weight="bold" >14</text>
<text x="191.8" y="116.4" font-size="12" fill="#0000ff" stroke="#0000ff" stroke-width="0.2" textLength="21.3" lengthAdjust="spacingAndGlyphs" font-family="Liberation Sans, sans-serif" font-weight="bold" >CAL</text>
<text x="138.4" y="132.9" font-size="12" fill="#0000ff" stroke="#0000ff" stroke-width="0.2" textLength="6" lengthAdjust="spacingAndGlyphs" font-family="Liberation Sans, sans-serif" font-weight="bold" >4</text>
<text x="197.6" y="132.9" font-size="12" fill="#0000ff" stroke="#0000ff" stroke-width="0.2" textLength="9.3" lengthAdjust="spacingAndGlyphs" font-family="Liberation Sans, sans-serif" font-weight="bold" >in</text>
<text x="253.6" y="132.9" font-size="12" fill="#0000ff" stroke="#0000ff" stroke-width="0.2" textLength="12.5" lengthAdjust="spacingAndGlyphs" font-family="Liberation Sans, sans-serif" font-weight="bold" >14</text>
<text x="293.8" y="56.8" font-size="12" fill="#000" stroke="#000" stroke-width="0.2" textLength="100.4" lengthAdjust="spacingAndGlyphs" font-family="Liberation Sans, sans-serif" font-weight="bold" >Sand - Shale (ND)</text>
<text x="329.5" y="82.3" font-size="12" fill="#0000ff" stroke="#0000ff" stroke-width="0.2" textLength="28.8" lengthAdjust="spacingAndGlyphs" font-family="Liberation Sans, sans-serif" font-weight="bold" >NPHI</text>
<text x="281" y="98.9" font-size="12" fill="#0000ff" stroke="#0000ff" stroke-width="0.2" textLength="22" lengthAdjust="spacingAndGlyphs" font-family="Liberation Sans, sans-serif" font-weight="bold" >0.45</text>
<text x="333.6" y="98.9" font-size="12" fill="#0000ff" stroke="#0000ff" stroke-width="0.2" textLength="20.6" lengthAdjust="spacingAndGlyphs" font-family="Liberation Sans, sans-serif" font-weight="bold" >V/V</text>
<text x="380.9" y="98.9" font-size="12" fill="#0000ff" stroke="#0000ff" stroke-width="0.2" textLength="26.7" lengthAdjust="spacingAndGlyphs" font-family="Liberation Sans, sans-serif" font-weight="bold" >-0.15</text>
<text x="327.1" y="116.4" font-size="12" fill="#ff0000" stroke="#ff0000" stroke-width="0.2" textLength="34.4" lengthAdjust="spacingAndGlyphs" font-family="Liberation Sans, sans-serif" font-weight="bold" >RHOB</text>
<text x="280.5" y="132.9" font-size="12" fill="#ff0000" stroke="#ff0000" stroke-width="0.2" textLength="22.2" lengthAdjust="spacingAndGlyphs" font-family="Liberation Sans, sans-serif" font-weight="bold" >1.95</text>
<text x="326.4" y="132.9" font-size="12" fill="#ff0000" stroke="#ff0000" stroke-width="0.2" textLength="35.5" lengthAdjust="spacingAndGlyphs" font-family="Liberation Sans, sans-serif" font-weight="bold" >g/cm3</text>
<text x="385.7" y="132.9" font-size="12" fill="#ff0000" stroke="#ff0000" stroke-width="0.2" textLength="22.6" lengthAdjust="spacingAndGlyphs" font-family="Liberation Sans, sans-serif" font-weight="bold" >2.95</text>
<text x="460.6" y="82.1" font-size="12" fill="#ff0000" stroke="#ff0000" stroke-width="0.2" textLength="34.4" lengthAdjust="spacingAndGlyphs" font-family="Liberation Sans, sans-serif" font-weight="bold" >RHOB</text>
<text x="422.7" y="98.9" font-size="12" fill="#ff0000" stroke="#ff0000" stroke-width="0.2" textLength="22.2" lengthAdjust="spacingAndGlyphs" font-family="Liberation Sans, sans-serif" font-weight="bold" >1.95</text>
<text x="460.1" y="98.9" font-size="12" fill="#ff0000" stroke="#ff0000" stroke-width="0.2" textLength="35.5" lengthAdjust="spacingAndGlyphs" font-family="Liberation Sans, sans-serif" font-weight="bold" >g/cm3</text>
<text x="511.5" y="98.9" font-size="12" fill="#ff0000" stroke="#ff0000" stroke-width="0.2" textLength="22.6" lengthAdjust="spacingAndGlyphs" font-family="Liberation Sans, sans-serif" font-weight="bold" >2.95</text>
<text x="466.3" y="116.4" font-size="12" fill="#0000ff" stroke="#0000ff" stroke-width="0.2" textLength="23.2" lengthAdjust="spacingAndGlyphs" font-family="Liberation Sans, sans-serif" font-weight="bold" >CBD</text>
<text x="422.7" y="132.9" font-size="12" fill="#0000ff" stroke="#0000ff" stroke-width="0.2" textLength="22.2" lengthAdjust="spacingAndGlyphs" font-family="Liberation Sans, sans-serif" font-weight="bold" >1.95</text>
<text x="460.1" y="132.9" font-size="12" fill="#0000ff" stroke="#0000ff" stroke-width="0.2" textLength="35.5" lengthAdjust="spacingAndGlyphs" font-family="Liberation Sans, sans-serif" font-weight="bold" >g/cm3</text>
<text x="511.5" y="132.9" font-size="12" fill="#0000ff" stroke="#0000ff" stroke-width="0.2" textLength="22.6" lengthAdjust="spacingAndGlyphs" font-family="Liberation Sans, sans-serif" font-weight="bold" >2.95</text>
<text x="592" y="82.4" font-size="12" fill="#000" stroke="#000" stroke-width="0.2" textLength="19.3" lengthAdjust="spacingAndGlyphs" font-family="Liberation Sans, sans-serif" font-weight="bold" >ECS</text>
<text x="615.7" y="82.7" font-size="11.5" fill="#000" stroke="#000" stroke-width="0.2" textLength="6.2" lengthAdjust="spacingAndGlyphs" font-family="Liberation Sans, sans-serif" font-weight="bold" >ρ</text>
<text x="622.35" y="83.9" font-size="7.5" fill="#000" stroke="#000" stroke-width="0.3" textLength="11.1" lengthAdjust="spacingAndGlyphs" font-family="Liberation Sans, sans-serif" font-weight="bold" >ma</text>
<text x="548.5" y="98.9" font-size="12" fill="#000" stroke="#000" stroke-width="0.2" textLength="15.5" lengthAdjust="spacingAndGlyphs" font-family="Liberation Sans, sans-serif" font-weight="bold" >2.5</text>
<text x="594.7" y="98.9" font-size="12" fill="#000" stroke="#000" stroke-width="0.2" textLength="35.5" lengthAdjust="spacingAndGlyphs" font-family="Liberation Sans, sans-serif" font-weight="bold" >g/cm3</text>
<text x="671" y="98.9" font-size="12" fill="#000" stroke="#000" stroke-width="0.2" textLength="5.5" lengthAdjust="spacingAndGlyphs" font-family="Liberation Sans, sans-serif" font-weight="bold" >3</text>
<text x="601.4" y="116.4" font-size="12" fill="#0000ff" stroke="#0000ff" stroke-width="0.2" textLength="23.2" lengthAdjust="spacingAndGlyphs" font-family="Liberation Sans, sans-serif" font-weight="bold" >CGD</text>
<text x="548.5" y="132.9" font-size="12" fill="#0000ff" stroke="#0000ff" stroke-width="0.2" textLength="15.5" lengthAdjust="spacingAndGlyphs" font-family="Liberation Sans, sans-serif" font-weight="bold" >2.5</text>
<text x="594.7" y="132.9" font-size="12" fill="#0000ff" stroke="#0000ff" stroke-width="0.2" textLength="35.5" lengthAdjust="spacingAndGlyphs" font-family="Liberation Sans, sans-serif" font-weight="bold" >g/cm3</text>
<text x="671" y="132.9" font-size="12" fill="#0000ff" stroke="#0000ff" stroke-width="0.2" textLength="5.5" lengthAdjust="spacingAndGlyphs" font-family="Liberation Sans, sans-serif" font-weight="bold" >3</text>
<text x="22.2" y="94.4" font-size="15.6" fill="#000" stroke="#000" stroke-width="0.4" textLength="27.3" lengthAdjust="spacingAndGlyphs" font-family="Liberation Sans, sans-serif" font-weight="bold" >MD</text>
<text x="20.2" y="108.5" font-size="15.6" fill="#000" stroke="#000" stroke-width="0.4" textLength="31.6" lengthAdjust="spacingAndGlyphs" font-family="Liberation Sans, sans-serif" font-weight="bold" >(m)</text>
<text x="11.4" y="128.5" font-size="17" fill="#000" stroke="#000" stroke-width="0.4" textLength="49.7" lengthAdjust="spacingAndGlyphs" font-family="Liberation Sans, sans-serif" font-weight="bold" >1:500</text>
<text x="11.2" y="157" font-size="20.3" fill="#000" stroke="#000" stroke-width="0.4" textLength="49.6" lengthAdjust="spacingAndGlyphs" font-family="Liberation Sans, sans-serif" font-weight="bold" >5000</text>
<text x="11.2" y="447.8" font-size="20.3" fill="#000" stroke="#000" stroke-width="0.4" textLength="49.6" lengthAdjust="spacingAndGlyphs" font-family="Liberation Sans, sans-serif" font-weight="bold" >5050</text>
<text transform="translate(110.6,136) rotate(-90)" x="0" y="0" font-size="21.3" stroke="#000" stroke-width="0.4" textLength="43.6" lengthAdjust="spacingAndGlyphs" font-family="Liberation Sans, sans-serif" font-weight="bold">Tops</text>
<text transform="translate(110.9,482.3) rotate(-90)" x="0" y="0" font-size="23.8" stroke="#000" stroke-width="0.45" textLength="325.4" lengthAdjust="spacingAndGlyphs" font-family="Liberation Sans, sans-serif" font-weight="bold">PloverFormation_Reservoir</text>
</svg>
</body></html>
